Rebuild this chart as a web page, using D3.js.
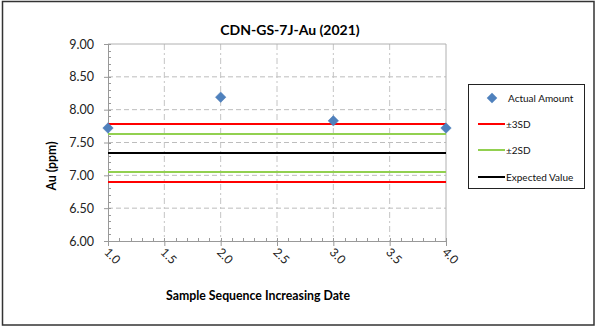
<!DOCTYPE html>
<html><head><meta charset="utf-8">
<script src="https://cdn.jsdelivr.net/npm/d3@7"></script>
<style>body{margin:0;background:#fff}svg{display:block;font-family:Lato,"Open Sans",sans-serif}</style>
</head><body><svg id="c" width="597" height="328"></svg>
<script>
const sampleX = [1, 2, 3, 4];
const actualAmount = [7.72, 8.19, 7.83, 7.72];
const expectedValue = 7.34;
const plus3SD = 7.78, minus3SD = 6.90;
const plus2SD = 7.63, minus2SD = 7.05;
const yTicks = [6.0, 6.5, 7.0, 7.5, 8.0, 8.5, 9.0];
const xTicks = [1.0, 1.5, 2.0, 2.5, 3.0, 3.5, 4.0];
const legendLabels = ["Actual Amount", "±3SD", "±2SD", "Expected Value"];

const svg = d3.select("#c");
const L = 108, R = 446, T = 44, B = 241;
const x = d3.scaleLinear().domain([1, 4]).range([L, R]);
const y = d3.scaleLinear().domain([6, 9]).range([B, T]);

// outer border
svg.append("rect").attr("x", 2.5).attr("y", 1.5).attr("width", 591.5).attr("height", 323.5)
  .attr("fill", "#fff").attr("stroke", "#333").attr("stroke-width", 1.5);

// grid
svg.append("g").selectAll("line").data(yTicks.filter(d => d > 6 && d < 9)).join("line")
  .attr("x1", L).attr("x2", R).attr("y1", d => y(d)).attr("y2", d => y(d))
  .attr("stroke", "#bdbdbd").attr("stroke-dasharray", "5,3");
svg.append("g").selectAll("line").data(xTicks.filter(d => d > 1 && d < 4)).join("line")
  .attr("y1", T).attr("y2", B).attr("x1", d => x(d)).attr("x2", d => x(d))
  .attr("stroke", "#c4c4c4").attr("stroke-dasharray", "6,3,2,3");
// plot frame top/right
svg.append("path").attr("d", `M${L},${T}H${R}V${B}`).attr("fill", "none").attr("stroke", "#b0b0b0");

// minor ticks
const yMinor = d3.range(6, 9.001, 0.1);
svg.append("g").selectAll("line").data(yMinor).join("line")
  .attr("x1", L).attr("x2", L + 3).attr("y1", d => Math.round(y(d)) + 0.5).attr("y2", d => Math.round(y(d)) + 0.5)
  .attr("stroke", "#999");
const xMinor = d3.range(1, 4.001, 0.1);
svg.append("g").selectAll("line").data(xMinor).join("line")
  .attr("y1", B).attr("y2", B - 3).attr("x1", d => Math.round(x(d)) + 0.5).attr("x2", d => Math.round(x(d)) + 0.5)
  .attr("stroke", "#999");

// axes
const yAxis = svg.append("g").attr("transform", `translate(${L},0)`)
  .call(d3.axisLeft(y).tickValues(yTicks).tickFormat(d3.format(".2f")).tickSize(4).tickPadding(10));
const xAxis = svg.append("g").attr("transform", `translate(0,${B})`)
  .call(d3.axisBottom(x).tickValues(xTicks).tickFormat(d3.format(".1f")).tickSize(5));
[yAxis, xAxis].forEach(a => {
  a.select(".domain").attr("stroke", "#999");
  a.selectAll(".tick line").attr("stroke", "#999");
});
yAxis.selectAll("text").attr("font-size", 12.5).attr("fill", "#222").attr("font-family", "Lato");
xAxis.selectAll("text").attr("font-size", 12).attr("fill", "#222").attr("font-family", "Lato")
  .attr("text-anchor", "start").attr("dy", null).attr("y", 0)
  .attr("transform", "translate(-5,12) rotate(45)");

// reference lines
const refs = [
  [plus3SD, "#ff0000"], [minus3SD, "#ff0000"],
  [plus2SD, "#92d050"], [minus2SD, "#92d050"],
  [expectedValue, "#000000"]
];
svg.append("g").selectAll("line").data(refs).join("line")
  .attr("x1", x(1)).attr("x2", x(4)).attr("y1", d => y(d[0])).attr("y2", d => y(d[0]))
  .attr("stroke", d => d[1]).attr("stroke-width", 2);

// points
const diamond = d3.symbol().type(d3.symbolDiamond2).size(70);
svg.append("g").selectAll("path").data(sampleX).join("path")
  .attr("d", diamond).attr("transform", (d, i) => `translate(${x(d)},${y(actualAmount[i])})`)
  .attr("fill", "#4f81bd").attr("stroke", "#4a7ab5").attr("stroke-width", 0.5);

// titles
svg.append("text").attr("x", 290).attr("y", 35).attr("text-anchor", "middle")
  .attr("font-size", 14).attr("font-weight", "bold").attr("fill", "#000").text("CDN-GS-7J-Au (2021)");
svg.append("text").attr("x", 258).attr("y", 300).attr("text-anchor", "middle")
  .attr("font-size", 12.3).attr("font-weight", "bold").attr("fill", "#000").text("Sample Sequence Increasing Date");
svg.append("text").attr("transform", "translate(56,166) rotate(-90)").attr("text-anchor", "middle")
  .attr("font-size", 12.3).attr("font-weight", "bold").attr("fill", "#000").text("Au (ppm)");

// legend
const lg = svg.append("g");
lg.append("rect").attr("x", 468.5).attr("y", 84.5).attr("width", 116).attr("height", 104)
  .attr("fill", "#fff").attr("stroke", "#222").attr("stroke-width", 1);
const ly = [98, 124, 150, 177];
const lcol = [null, "#ff0000", "#92d050", "#000000"];
legendLabels.forEach((lab, i) => {
  if (i === 0) {
    lg.append("path").attr("d", diamond).attr("transform", `translate(492,${ly[i]})`).attr("fill", "#4f81bd");
  } else {
    lg.append("line").attr("x1", 478).attr("x2", 505).attr("y1", ly[i]).attr("y2", ly[i])
      .attr("stroke", lcol[i]).attr("stroke-width", 2);
  }
  lg.append("text").attr("x", i === 0 ? 508 : 506).attr("y", ly[i]).attr("dy", "0.35em")
    .attr("font-size", 10).attr("fill", "#111").text(lab);
});
</script></body></html>
